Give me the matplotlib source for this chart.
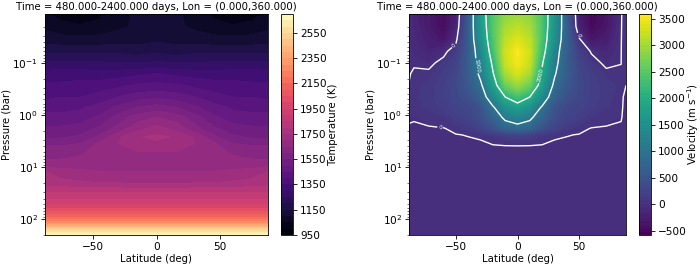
import numpy as np
import matplotlib
matplotlib.use('Agg')
import matplotlib.pyplot as plt

# Values
lat_t = [-88, -75, -60, -45, -30, -15, 0, 15, 30, 45, 60, 75, 88]
p_t = [0.0115, 0.02, 0.035, 0.06, 0.1, 0.16, 0.27, 0.45, 0.7, 1.1, 1.8, 2.6, 3.5, 5, 8, 12, 20, 30, 50, 100, 150, 200]
temp = [
    [1060, 1030, 1010, 1040, 1080, 1110, 1150, 1110, 1080, 1040, 1010, 1030, 1060],
    [1090, 1070, 1060, 1070, 1090, 1110, 1140, 1110, 1090, 1070, 1060, 1070, 1090],
    [1130, 1120, 1120, 1120, 1130, 1130, 1140, 1130, 1130, 1120, 1120, 1120, 1130],
    [1190, 1190, 1190, 1190, 1190, 1180, 1190, 1180, 1190, 1190, 1190, 1190, 1190],
    [1260, 1260, 1260, 1260, 1250, 1250, 1260, 1250, 1250, 1260, 1260, 1260, 1260],
    [1320, 1330, 1330, 1320, 1330, 1340, 1350, 1340, 1330, 1320, 1330, 1330, 1320],
    [1360, 1360, 1370, 1380, 1390, 1410, 1420, 1410, 1390, 1380, 1370, 1360, 1360],
    [1390, 1400, 1400, 1420, 1450, 1480, 1490, 1480, 1450, 1420, 1400, 1400, 1390],
    [1430, 1430, 1440, 1470, 1510, 1550, 1570, 1550, 1510, 1470, 1440, 1430, 1430],
    [1470, 1470, 1480, 1510, 1570, 1630, 1650, 1630, 1570, 1510, 1480, 1470, 1470],
    [1510, 1510, 1520, 1560, 1620, 1680, 1720, 1680, 1620, 1560, 1520, 1510, 1510],
    [1540, 1540, 1560, 1610, 1690, 1745, 1760, 1745, 1690, 1610, 1560, 1540, 1540],
    [1590, 1590, 1600, 1660, 1700, 1730, 1740, 1730, 1700, 1660, 1600, 1590, 1590],
    [1630, 1630, 1640, 1670, 1690, 1700, 1700, 1700, 1690, 1670, 1640, 1630, 1630],
    [1660, 1660, 1670, 1680, 1690, 1700, 1700, 1700, 1690, 1680, 1670, 1660, 1660],
    [1750, 1720, 1710, 1700, 1700, 1700, 1700, 1700, 1700, 1700, 1710, 1720, 1750],
    [1780, 1770, 1760, 1750, 1750, 1740, 1740, 1740, 1750, 1750, 1760, 1770, 1780],
    [1850, 1850, 1850, 1850, 1850, 1850, 1850, 1850, 1850, 1850, 1850, 1850, 1850],
    [1950, 1950, 1950, 1950, 1950, 1950, 1950, 1950, 1950, 1950, 1950, 1950, 1950],
    [2200, 2200, 2200, 2200, 2200, 2200, 2200, 2200, 2200, 2200, 2200, 2200, 2200],
    [2500, 2500, 2500, 2500, 2500, 2500, 2500, 2500, 2500, 2500, 2500, 2500, 2500],
    [2690, 2690, 2690, 2690, 2690, 2690, 2690, 2690, 2690, 2690, 2690, 2690, 2690],
]

lat_u = [-88, -84, -72, -60, -50, -40, -30, -20, -10, 0, 10, 20, 30, 40, 50, 60, 72, 84, 85, 88]
p_u = [0.0115, 0.02, 0.035, 0.06, 0.1, 0.16, 0.27, 0.45, 0.7, 1.1, 1.8, 2.4, 3, 3.9, 5, 10, 30, 200]
vel = [
    [-90, -160, -310, -460, -230, 550, 1650, 2450, 2850, 2950, 2850, 2400, 1550, 600, -260, -500, -380, -40, 30, 40],
    [-70, -130, -300, -450, -180, 580, 1600, 2450, 3000, 3150, 3000, 2400, 1520, 620, -220, -480, -350, -30, 40, 50],
    [-50, -100, -240, -350, -60, 600, 1500, 2400, 3150, 3350, 3150, 2350, 1450, 620, 30, -350, -250, -20, 50, 60],
    [-40, -70, -170, -60, 130, 600, 1300, 2300, 3250, 3550, 3250, 2250, 1250, 620, 170, -20, -130, -10, 50, 60],
    [-30, -20, -60, 80, 220, 620, 1200, 2100, 3200, 3500, 3200, 2050, 1150, 620, 250, 90, -50, -5, 50, 50],
    [-15, 30, 50, 150, 280, 600, 1100, 1950, 3000, 3300, 3000, 1900, 1050, 600, 300, 160, 60, 40, 40, 40],
    [10, 50, 90, 190, 320, 540, 900, 1700, 2600, 2900, 2600, 1700, 880, 520, 320, 190, 100, 60, 30, 0],
    [30, 60, 100, 200, 300, 430, 700, 1350, 2000, 2300, 2000, 1350, 680, 420, 300, 190, 100, 40, 5, -15],
    [25, 45, 90, 170, 240, 300, 450, 950, 1500, 1750, 1500, 950, 450, 290, 230, 160, 80, 25, 2, -15],
    [5, 5, 30, 70, 170, 250, 400, 720, 1100, 1250, 1100, 720, 400, 250, 170, 70, 30, 5, -2, -15],
    [-5, -10, -10, -5, 30, 100, 230, 430, 700, 800, 700, 430, 230, 100, 30, -5, -10, -10, -12, -15],
    [-15, -15, -20, -15, -5, 5, 40, 90, 180, 240, 180, 90, 40, 5, -5, -15, -20, -15, -15, -15],
    [-20, -20, -25, -25, -20, -10, 0, 30, 80, 110, 80, 30, 0, -10, -20, -25, -25, -20, -20, -20],
    [-25, -25, -25, -25, -25, -20, -15, -8, -3, 0, -3, -8, -15, -20, -25, -25, -25, -25, -25, -25],
    [-30, -30, -30, -30, -30, -30, -25, -20, -15, -10, -15, -20, -25, -30, -30, -30, -30, -30, -30, -30],
    [-30, -30, -30, -30, -30, -30, -30, -30, -30, -30, -30, -30, -30, -30, -30, -30, -30, -30, -30, -30],
    [-30, -30, -30, -30, -30, -30, -30, -30, -30, -30, -30, -30, -30, -30, -30, -30, -30, -30, -30, -30],
    [-30, -30, -30, -30, -30, -30, -30, -30, -30, -30, -30, -30, -30, -30, -30, -30, -30, -30, -30, -30],
]

temp_ticks = [950, 1150, 1350, 1550, 1750, 1950, 2150, 2350, 2550]
vel_ticks = [-500, 0, 500, 1000, 1500, 2000, 2500, 3000, 3500]
title = 'Time = 480.000-2400.000 days, Lon = (0.000,360.000)'

W, H = 700, 266
plt.rcParams['font.size'] = 7.3
plt.rcParams['xtick.labelsize'] = 7.6
plt.rcParams['ytick.labelsize'] = 7.6
plt.rcParams['axes.linewidth'] = 0.6
for t in ['xtick', 'ytick']:
    plt.rcParams[t + '.major.width'] = 0.6
    plt.rcParams[t + '.minor.width'] = 0.4
    plt.rcParams[t + '.major.size'] = 2.6
    plt.rcParams[t + '.minor.size'] = 1.5
    plt.rcParams[t + '.major.pad'] = 2.4


def box(x0, y0, x1, y1):
    return [x0/W, 1 - y1/H, (x1-x0)/W, (y1-y0)/H]


fig = plt.figure(figsize=(7, 2.66), dpi=100)
ax1 = fig.add_axes(box(45, 14, 268, 235))
cax1 = fig.add_axes(box(281, 14, 293, 235))
ax2 = fig.add_axes(box(409, 14, 626, 235))
cax2 = fig.add_axes(box(639, 14, 651, 235))

for ax in [ax1, ax2]:
    ax.set_yscale('log')
    ax.set_xlim(-88, 88)
    ax.set_ylim(200, 0.0115)
    ax.set_xlabel('Latitude (deg)', labelpad=1.5)
    ax.set_ylabel('Pressure (bar)', labelpad=1)
    ax.set_title(title, fontsize=7.25, pad=3)

cf1 = ax1.contourf(lat_t, p_t, temp, levels=np.arange(950, 2701, 50), cmap='magma')
cf2 = ax2.contourf(lat_u, p_u, vel, levels=np.arange(-575, 3601, 65), cmap='viridis')
cl = ax2.contour(lat_u, p_u, vel, levels=[0, 1000, 2000], colors='white', linewidths=1.0)
ax2.clabel(cl, fmt='%d', fontsize=4, inline_spacing=1,
           manual=[(-52, 0.045), (48, 0.03), (-63, 1.9), (-31, 0.11), (19, 0.17)])

cb1 = fig.colorbar(cf1, cax=cax1, ticks=temp_ticks)
cb1.set_label('Temperature (K)', labelpad=1)
cb2 = fig.colorbar(cf2, cax=cax2, ticks=vel_ticks)
cb2.set_label('Velocity (m s$^{-1}$)', labelpad=-1)

fig.savefig('out.png', dpi=100)
